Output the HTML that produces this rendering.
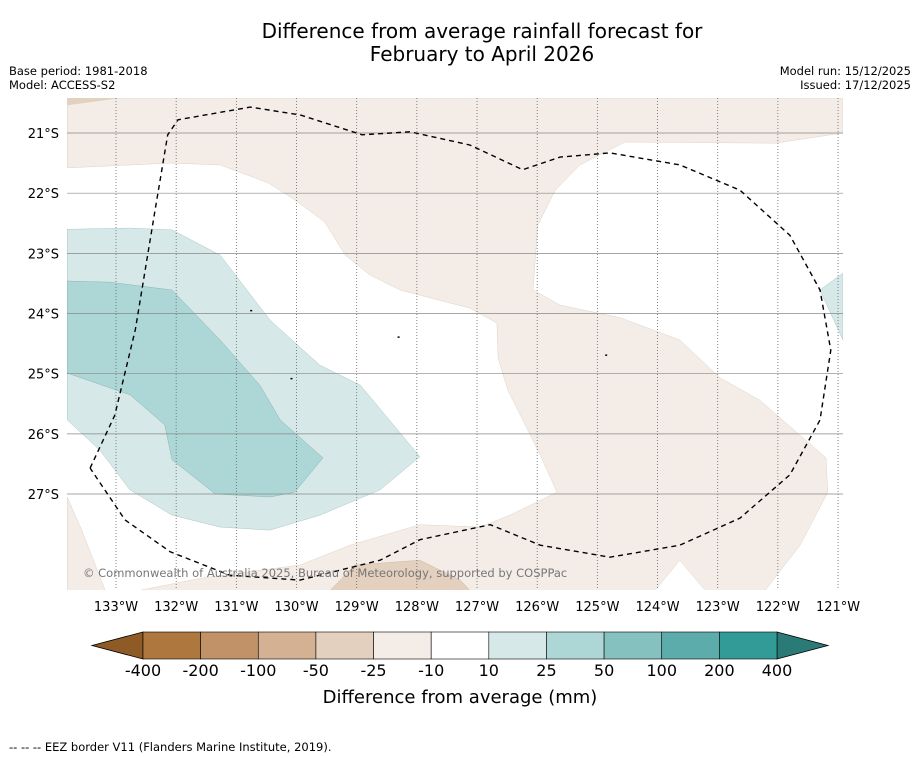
<!DOCTYPE html>
<html><head><meta charset="utf-8"><style>
body{margin:0;background:#fff;font-family:"DejaVu Sans","Liberation Sans",sans-serif;}
svg{display:block}
</style></head><body>
<svg id="c" width="919" height="758" viewBox="0 0 919 758">
<rect width="919" height="758" fill="#fff"/>
<text x="482" y="38" font-size="20" text-anchor="middle">Difference from average rainfall forecast for</text>
<text x="482" y="61" font-size="20" text-anchor="middle">February to April 2026</text>
<text x="9" y="75" font-size="11.5">Base period: 1981-2018</text>
<text x="9" y="89" font-size="11.5">Model: ACCESS-S2</text>
<text x="911" y="75" font-size="11.5" text-anchor="end">Model run: 15/12/2025</text>
<text x="911" y="89" font-size="11.5" text-anchor="end">Issued: 17/12/2025</text>
<g id="map"></g>
<g id="cbar"></g>
<text x="460" y="703" font-size="18" text-anchor="middle">Difference from average (mm)</text>
<text x="9" y="751" font-size="11.5">--  --  -- EEZ border V11 (Flanders Marine Institute, 2019).</text>
</svg>
<script>
const lonTicks=[-133,-132,-131,-130,-129,-128,-127,-126,-125,-124,-123,-122,-121];
const latTicks=[-21,-22,-23,-24,-25,-26,-27];
const levelLabels=["-400","-200","-100","-50","-25","-10","10","25","50","100","200","400"];
const levelColors=["#ae773e","#c19268","#d4b193","#e4d0be","#f4ece6","#ffffff","#d6e9e8","#add7d6","#85c1bf","#5bacaa","#329a97"];
const extColors=["#8e5a26","#2a7b78"];
const fillBeige=[[-133.81,-20.42],[-120.92,-20.42],[-120.92,-21],[-122.05,-21.17],[-124.54,-21.15],[-125.29,-21.53],[-125.70,-21.95],[-125.99,-22.53],[-126.07,-23.61],[-125.62,-23.86],[-124.62,-24.07],[-123.63,-24.44],[-122.96,-25.07],[-122.30,-25.44],[-121.20,-26.40],[-121.17,-26.97],[-121.63,-27.85],[-122.21,-28.60],[-123.21,-28.60],[-123.63,-28.10],[-124.04,-28.60],[-132.60,-28.60],[-131.60,-28.40],[-129.94,-28.18],[-129.11,-27.85],[-127.95,-27.51],[-126.95,-27.55],[-126.45,-27.35],[-125.67,-26.97],[-125.95,-26.35],[-126.49,-25.27],[-126.65,-24.74],[-126.67,-24.16],[-127.12,-23.91],[-128.28,-23.61],[-128.78,-23.36],[-129.19,-23.03],[-129.53,-22.48],[-130.03,-22.11],[-130.47,-21.83],[-131.27,-21.53],[-132.10,-21.50],[-133.81,-21.58]];
const fillBeigeLeft=[[-133.81,-27.05],[-133.57,-27.60],[-133.18,-28.60],[-133.81,-28.60]];
const fillBeigeDark=[[-129.44,-28.60],[-129.03,-28.18],[-127.95,-28.10],[-127.28,-28.43],[-127.12,-28.60]];
const fillCorner=[[-133.81,-20.42],[-132.93,-20.42],[-133.81,-20.54]];
const fillTealLight=[[-133.81,-22.60],[-132.77,-22.58],[-132.07,-22.61],[-131.27,-23.03],[-130.44,-24.11],[-129.61,-24.86],[-128.94,-25.19],[-127.95,-26.38],[-128.61,-26.93],[-129.61,-27.35],[-130.44,-27.60],[-131.27,-27.55],[-132.07,-27.35],[-132.77,-26.93],[-133.27,-26.27],[-133.81,-25.77]];
const fillTealMid=[[-133.81,-23.46],[-133.10,-23.48],[-132.07,-23.61],[-131.27,-24.44],[-130.61,-25.19],[-130.27,-25.77],[-129.56,-26.40],[-130.03,-26.97],[-130.44,-27.05],[-131.35,-27.00],[-132.07,-26.43],[-132.19,-25.85],[-132.77,-25.35],[-133.81,-24.99]];
const fillTealRight=[[-120.92,-23.33],[-121.30,-23.61],[-120.92,-24.44]];
const eez=[[-133.43,-26.57],[-133.02,-25.69],[-132.68,-24.27],[-132.35,-22.28],[-132.14,-21.03],[-131.97,-20.78],[-130.77,-20.57],[-129.94,-20.70],[-128.91,-21.03],[-128.11,-20.98],[-127.12,-21.20],[-126.24,-21.61],[-125.62,-21.40],[-124.79,-21.33],[-123.63,-21.53],[-122.63,-21.95],[-121.80,-22.70],[-121.30,-23.61],[-121.12,-24.61],[-121.30,-25.77],[-121.80,-26.68],[-122.63,-27.40],[-123.63,-27.85],[-124.79,-28.05],[-125.95,-27.85],[-126.78,-27.51],[-127.95,-27.76],[-128.61,-28.10],[-129.94,-28.43],[-131.11,-28.35],[-132.10,-27.96],[-132.85,-27.43],[-133.43,-26.57]];
const islands=[[-130.77,-23.94],[-130.10,-25.07],[-128.32,-24.38],[-124.87,-24.68]];

const NS="http://www.w3.org/2000/svg";
const K=60.17;
const X=lon=>116+(lon+133)*K;
const Y=lat=>133+(-lat-21)*K;
const map=document.getElementById('map');
const cbar=document.getElementById('cbar');
function mk(tag,attrs,parent){const e=document.createElementNS(NS,tag);for(const k in attrs)e.setAttribute(k,attrs[k]);parent.appendChild(e);return e;}
const cp=mk('clipPath',{id:'clip'},map);
mk('rect',{x:67,y:98,width:776,height:492},cp);
const g=mk('g',{'clip-path':'url(#clip)'},map);
function poly(arr,fill,stroke,name){
  const p=mk('polygon',{points:arr.map(d=>X(d[0]).toFixed(1)+','+Y(d[1]).toFixed(1)).join(' '),fill:fill,stroke:stroke,'stroke-width':0.5},g);
  
  
}
poly(fillBeige,levelColors[4],"#e0d3c8","contour-dry-10-25");
poly(fillBeigeLeft,levelColors[4],"#e0d3c8","contour-dry-left");
poly(fillBeigeDark,levelColors[3],"#d0b9a4","contour-dry-25-50");
poly(fillCorner,levelColors[3],"none","contour-dry-corner");
poly(fillTealLight,levelColors[6],"#a8c8c6","contour-wet-10-25");
poly(fillTealMid,levelColors[7],"#8ab5b3","contour-wet-25-50");
poly(fillTealRight,levelColors[6],"#a8c8c6","contour-wet-right");
lonTicks.forEach(l=>{
  const v=mk('line',{x1:X(l),x2:X(l),y1:98,y2:590,stroke:'#666','stroke-width':0.8,'stroke-dasharray':'1,2'},g);
  
  
  const t=mk('text',{x:X(l),y:611,'font-size':13,'text-anchor':'middle'},map);
  t.textContent=(-l)+'°W';
  
  
});
latTicks.forEach(l=>{
  const h=mk('line',{x1:67,x2:843,y1:Y(l),y2:Y(l),stroke:'#888','stroke-width':0.7},g);
  
  
  const t=mk('text',{x:59,y:Y(l)+5,'font-size':13,'text-anchor':'end'},map);
  t.textContent=(-l)+'°S';
  
  
});
islands.forEach(d=>{
  const c=mk('rect',{x:X(d[0]),y:Y(d[1]),width:2,height:1.5,fill:'#000'},g);
  
  
});
const ez=mk('polyline',{points:eez.map(d=>X(d[0]).toFixed(1)+','+Y(d[1]).toFixed(1)).join(' '),fill:'none',stroke:'#000','stroke-width':1.4,'stroke-dasharray':'5,4'},g);


const cr=mk('text',{x:83,y:577,'font-size':11.5,fill:'#777'},g);
cr.textContent='© Commonwealth of Australia 2025, Bureau of Meteorology, supported by COSPPac';



const cx0=143,cx1=777,cy0=632,cy1=659,n=levelColors.length,w=(cx1-cx0)/n;
const e1=mk('polygon',{points:`${cx0},${cy0} ${cx0},${cy1} 92,${(cy0+cy1)/2}`,fill:extColors[0],stroke:'#000','stroke-width':0.8},cbar);


const e2=mk('polygon',{points:`${cx1},${cy0} ${cx1},${cy1} 828,${(cy0+cy1)/2}`,fill:extColors[1],stroke:'#000','stroke-width':0.8},cbar);


levelColors.forEach((c,i)=>{
  const r=mk('rect',{x:cx0+i*w,y:cy0,width:w,height:cy1-cy0,fill:c,stroke:'#000','stroke-width':0.6},cbar);
  
  
});
levelLabels.forEach((s,i)=>{
  const t=mk('text',{x:cx0+i*w,y:676,'font-size':16,'text-anchor':'middle'},cbar);
  t.textContent=s;
  
  
});
</script>
</body></html>
